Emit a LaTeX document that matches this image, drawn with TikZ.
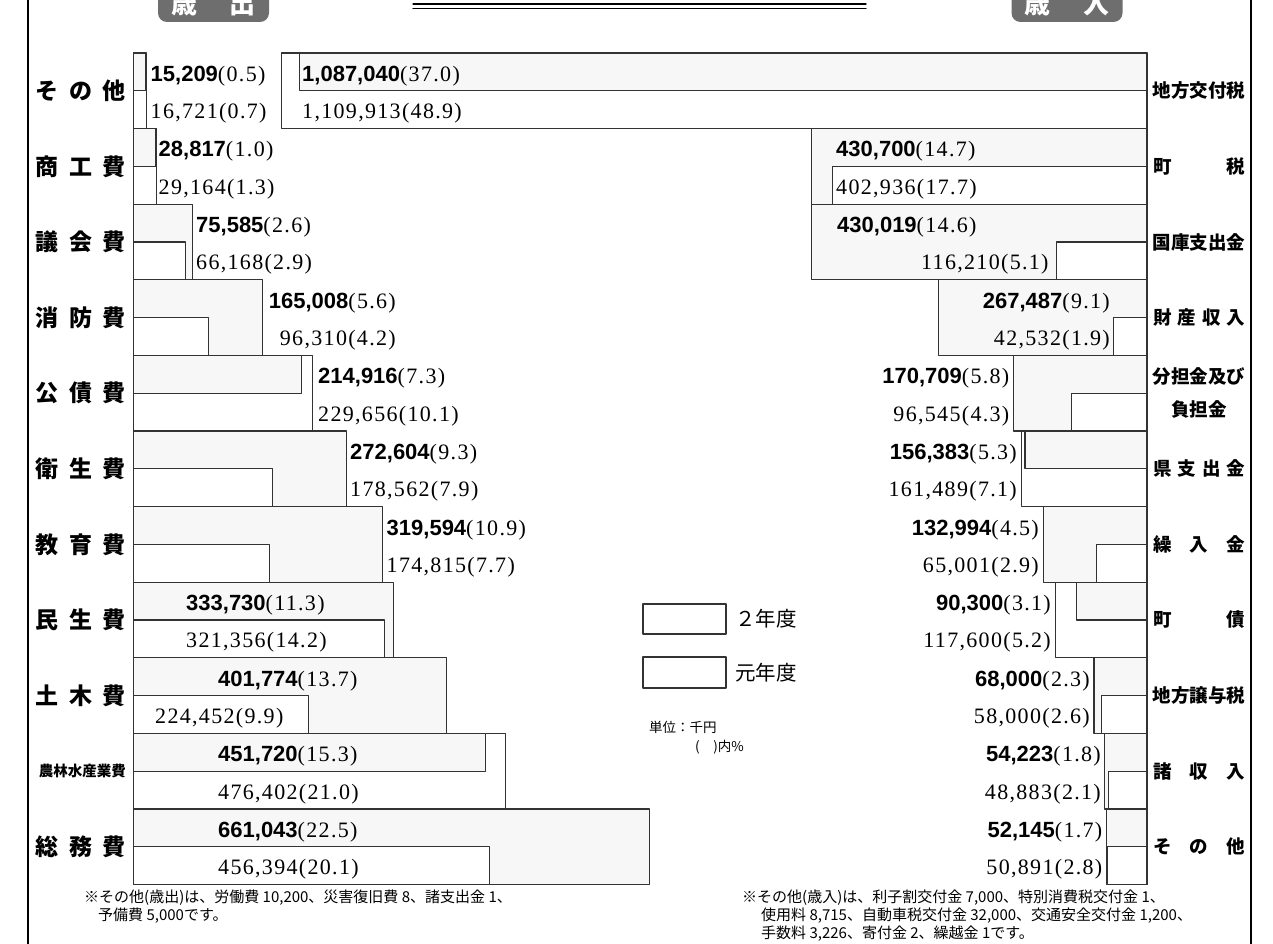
\documentclass[tikz,border=0pt]{standalone}
\usepackage{fontspec}
\setmainfont{Liberation Serif}
\newfontfamily\jp{Noto Sans CJK JP}
\newfontfamily\numsans{Liberation Sans}
\newfontfamily\numser[LetterSpace=6]{Liberation Serif}
\definecolor{badge}{HTML}{6E6E6E}
\definecolor{stip}{HTML}{F7F7F7}
\newcommand\numA[2]{{\numsans\bfseries #1}{\numser(#2)}}
\newcommand\numB[2]{{\numser #1(#2)}}
\newcommand\sprL[1]{\makebox[90pt][s]{#1}}
\newcommand\sprR[1]{\makebox[92pt][s]{#1}}
\tikzset{
  bar/.style={draw=black!80, line width=1.1pt},
  val/.style={inner sep=0pt, font=\fontsize{22}{26}\selectfont},
  labL/.style={inner sep=0pt, anchor=east, font=\jp\bfseries\fontsize{23}{26}\selectfont},
  labR/.style={inner sep=0pt, align=center, font=\jp\bfseries\fontsize{18.5}{33}\selectfont},
  badgebox/.style={fill=badge, rounded corners=9pt, minimum width=111pt, minimum height=37pt,
    inner sep=0pt, text=white, font=\jp\bfseries\fontsize{26}{28}\selectfont},
  note/.style={inner sep=0pt, anchor=west, font=\jp\fontsize{15}{18}\selectfont},
}
\begin{document}
\begin{tikzpicture}[x=1pt, y=-1pt, line cap=round, line join=round]
\useasboundingbox (0,0) rectangle (1273,944);
\def\ytop{53} \def\rowh{75.6} \def\axL{133.5} \def\axR{1147} \def\sc{0.78}

% frame and heading
\draw [line width=1.5pt] (28,0) -- (28,944);
\draw [line width=2pt] (1251,0) -- (1251,944);
\draw [line width=1.3pt] (413,4) -- (866,4) (413,8.5) -- (866,8.5);
\node [badgebox] (hdout) at (213.5,3.5) {歳\hspace{33pt}出};
\node [badgebox] (hdin) at (1067,3.5) {歳\hspace{33pt}入};

% expenditure
\foreach \lab/\a/\na/\pa/\b/\nb/\pb/\anc/\xa/\xb [count=\i from 0] in {
  {\sprL{そ\hfil の\hfil 他}}/15.209/{15,209}/0.5/16.721/{16,721}/0.7/west/150.5/150.5,
  {\sprL{商\hfil 工\hfil 費}}/28.817/{28,817}/1.0/29.164/{29,164}/1.3/west/158.5/158.5,
  {\sprL{議\hfil 会\hfil 費}}/75.585/{75,585}/2.6/66.168/{66,168}/2.9/west/196/196,
  {\sprL{消\hfil 防\hfil 費}}/165.008/{165,008}/5.6/96.310/{96,310}/4.2/east/396/396,
  {\sprL{公\hfil 債\hfil 費}}/214.916/{214,916}/7.3/229.656/{229,656}/10.1/west/318/318,
  {\sprL{衛\hfil 生\hfil 費}}/272.604/{272,604}/9.3/178.562/{178,562}/7.9/west/350/350,
  {\sprL{教\hfil 育\hfil 費}}/319.594/{319,594}/10.9/174.815/{174,815}/7.7/west/386.5/386.5,
  {\sprL{民\hfil 生\hfil 費}}/333.730/{333,730}/11.3/321.356/{321,356}/14.2/west/186/186,
  {\sprL{土\hfil 木\hfil 費}}/401.774/{401,774}/13.7/224.452/{224,452}/9.9/west/218/155,
  {\fontsize{14.5}{16}\selectfont 農林水産業費}/451.720/{451,720}/15.3/476.402/{476,402}/21.0/west/218/218,
  {\sprL{総\hfil 務\hfil 費}}/661.043/{661,043}/22.5/456.394/{456,394}/20.1/west/218/218}{
  \pgfmathsetmacro\yt{\ytop+\i*\rowh}
  \pgfmathsetmacro\ym{\yt+\rowh/2}
  \pgfmathsetmacro\yb{\yt+\rowh}
  \pgfmathsetmacro\ea{\axL+\a*\sc}
  \pgfmathsetmacro\eb{\axL+\b*\sc}
  \ifdim\a pt<\b pt
    \draw [bar, fill=white] (\axL,\yt) rectangle (\eb,\yb);
    \draw [bar, fill=stip] (\axL,\yt) rectangle (\ea,\ym);
  \else
    \draw [bar, fill=stip] (\axL,\yt) rectangle (\ea,\yb);
    \draw [bar, fill=white] (\axL,\ym) rectangle (\eb,\yb);
  \fi
  \node [val, anchor=base \anc] (L\i a) at (\xa,\yt+\rowh/4+9.5) {\numA{\na}{\pa}};
  \node [val, anchor=base \anc] (L\i b) at (\xb,\ym+\rowh/4+9) {\numB{\nb}{\pb}};
  \node [labL] (Ln\i) at (126,\ym) {\lab};
}

% revenue
\foreach \lab/\a/\na/\pa/\b/\nb/\pb/\anc/\xa/\xb [count=\i from 0] in {
  {地方交付税}/1087.040/{1,087,040}/37.0/1109.913/{1,109,913}/48.9/west/302/302,
  {\sprR{町\hfil 税}}/430.700/{430,700}/14.7/402.936/{402,936}/17.7/west/836/836,
  {国庫支出金}/430.019/{430,019}/14.6/116.210/{116,210}/5.1/west/837/921,
  {\sprR{財\hfil 産\hfil 収\hfil 入}}/267.487/{267,487}/9.1/42.532/{42,532}/1.9/east/1110/1110,
  {分担金及び\\負担金}/170.709/{170,709}/5.8/96.545/{96,545}/4.3/east/1009.5/1009.5,
  {\sprR{県\hfil 支\hfil 出\hfil 金}}/156.383/{156,383}/5.3/161.489/{161,489}/7.1/east/1017/1017,
  {\sprR{繰\hfil 入\hfil 金}}/132.994/{132,994}/4.5/65.001/{65,001}/2.9/east/1039/1039,
  {\sprR{町\hfil 債}}/90.300/{90,300}/3.1/117.600/{117,600}/5.2/east/1051/1051,
  {地方譲与税}/68.000/{68,000}/2.3/58.000/{58,000}/2.6/east/1090/1090,
  {\sprR{諸\hfil 収\hfil 入}}/54.223/{54,223}/1.8/48.883/{48,883}/2.1/east/1101/1101,
  {\sprR{そ\hfil の\hfil 他}}/52.145/{52,145}/1.7/50.891/{50,891}/2.8/east/1102.5/1102.5}{
  \pgfmathsetmacro\yt{\ytop+\i*\rowh}
  \pgfmathsetmacro\ym{\yt+\rowh/2}
  \pgfmathsetmacro\yb{\yt+\rowh}
  \pgfmathsetmacro\ea{\axR-\a*\sc}
  \pgfmathsetmacro\eb{\axR-\b*\sc}
  \ifdim\a pt<\b pt
    \draw [bar, fill=white] (\eb,\yt) rectangle (\axR,\yb);
    \draw [bar, fill=stip] (\ea,\yt) rectangle (\axR,\ym);
  \else
    \draw [bar, fill=stip] (\ea,\yt) rectangle (\axR,\yb);
    \draw [bar, fill=white] (\eb,\ym) rectangle (\axR,\yb);
  \fi
  \node [val, anchor=base \anc] (R\i a) at (\xa,\yt+\rowh/4+9.5) {\numA{\na}{\pa}};
  \node [val, anchor=base \anc] (R\i b) at (\xb,\ym+\rowh/4+9) {\numB{\nb}{\pb}};
  \node [labR] (Rn\i) at (1199,\ym) {\lab};
}

% legend
\draw [bar, fill=white] (643,604) rectangle (726,634);
\draw [bar, fill=white] (643,657) rectangle (726,688);
\node [note, font=\jp\fontsize{20.5}{22}\selectfont] (lgnew) at (735,619) {２年度};
\node [note, font=\jp\fontsize{20.5}{22}\selectfont] (lgold) at (735,673) {元年度};
\node [note, font=\jp\fontsize{13.5}{16}\selectfont] (unit) at (649,727) {単位：千円};
\node [note, font=\jp\fontsize{13.5}{16}\selectfont] (pct) at (695,747) {(　)内\%};

% footnotes
\node [note] (fnL1) at (84,898) {※その他(歳出)は、労働費 10,200、災害復旧費 8、諸支出金 1、};
\node [note] (fnL2) at (98,916) {予備費 5,000です。};
\node [note] (fnR1) at (742,898) {※その他(歳入)は、利子割交付金 7,000、特別消費税交付金 1、};
\node [note] (fnR2) at (761,916) {使用料 8,715、自動車税交付金 32,000、交通安全交付金 1,200、};
\node [note] (fnR3) at (761,934) {手数料 3,226、寄付金 2、繰越金 1です。};
\end{tikzpicture}
\end{document}
